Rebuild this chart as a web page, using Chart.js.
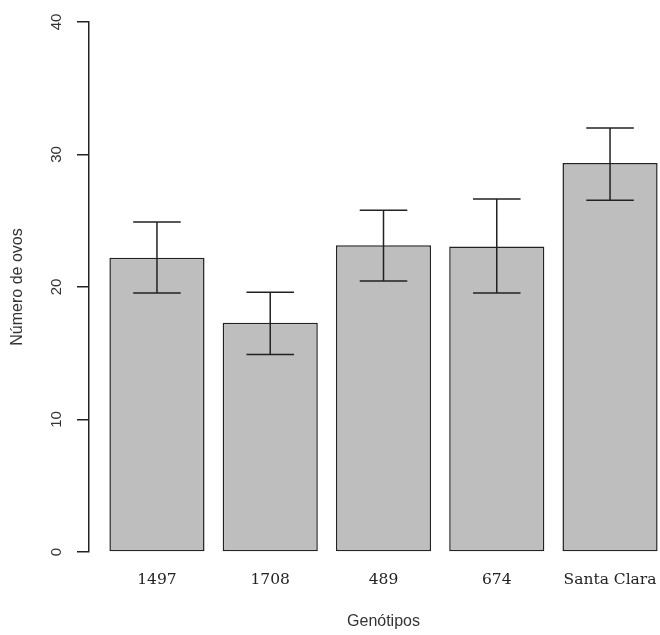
<!DOCTYPE html>
<html>
<head>
<meta charset="utf-8">
<script src="https://cdn.jsdelivr.net/npm/chart.js@4.4.0/dist/chart.umd.min.js"></script>
<style>
  html, body { margin: 0; padding: 0; background: #fff; overflow: hidden; }
  #wrap { width: 680px; height: 635px; }
</style>
</head>
<body>
<div id="wrap"><canvas id="chart" width="680" height="635"></canvas></div>
<script>
const genotypes = ['1497', '1708', '489', '674', 'Santa Clara'];
const meanEggs = [22.2, 17.3, 23.15, 23.05, 29.35];
const errLow = [19.55, 14.9, 20.45, 19.55, 26.55];
const errHigh = [24.9, 19.6, 25.8, 26.65, 32.0];
const yTicks = [0, 10, 20, 30, 40];

// draws the mean +/- error whiskers on top of each bar
const errorBars = {
  id: 'errorBars',
  afterDatasetsDraw(chart) {
    const { ctx, scales: { y } } = chart;
    const meta = chart.getDatasetMeta(0);
    ctx.save();
    ctx.strokeStyle = '#222';
    ctx.lineWidth = 1.5;
    meta.data.forEach((bar, i) => {
      const cx = bar.x;
      const half = bar.width * 0.25;
      const top = y.getPixelForValue(errHigh[i]);
      const bot = y.getPixelForValue(errLow[i]);
      ctx.beginPath();
      ctx.moveTo(cx, top); ctx.lineTo(cx, bot);
      ctx.moveTo(cx - half, top); ctx.lineTo(cx + half, top);
      ctx.moveTo(cx - half, bot); ctx.lineTo(cx + half, bot);
      ctx.stroke();
    });
    ctx.restore();
  }
};

new Chart(document.getElementById('chart'), {
  type: 'bar',
  data: {
    datasets: [{
      data: genotypes.map((g, i) => ({ x: i + 1, y: meanEggs[i] })),
      backgroundColor: '#bebebe',
      borderColor: '#222',
      borderWidth: 1.5,
      borderSkipped: false,
      barPercentage: 0.84,
      categoryPercentage: 1
    }]
  },
  options: {
    responsive: false,
    animation: false,
    layout: { padding: { top: 22, right: 2, left: 0, bottom: 0 } },
    plugins: { legend: { display: false }, tooltip: { enabled: false } },
    scales: {
      x: {
        type: 'linear',
        min: 0.4,
        max: 5.6,
        offset: false,
        afterBuildTicks: s => { s.ticks = genotypes.map((g, i) => ({ value: i + 1 })); },
        afterFit: s => { s.height = 83; },
        grid: { display: false, drawTicks: false, offset: false },
        border: { display: false },
        ticks: {
          autoSkip: false, maxRotation: 0, padding: 19, color: '#222',
          font: { family: 'DejaVu Serif', size: 15.5 },
          callback: v => genotypes[v - 1]
        },
        title: {
          display: true, text: 'Genótipos', color: '#333',
          font: { family: 'Liberation Sans', size: 16 },
          padding: { top: 0, bottom: 4 }
        }
      },
      y: {
        min: 0,
        max: 40,
        afterBuildTicks: s => { s.ticks = yTicks.map(v => ({ value: v })); },
        afterFit: s => { s.width = 89; },
        grid: { drawOnChartArea: false, drawTicks: true, tickLength: 12, color: '#222', lineWidth: 1.5 },
        border: { display: true, color: '#222', width: 1.5 },
        ticks: {
          minRotation: 90, maxRotation: 90, crossAlign: 'center', padding: 12, color: '#333',
          font: { family: 'Liberation Sans', size: 15 }
        },
        title: {
          display: true, text: 'Número de ovos', color: '#333',
          font: { family: 'Liberation Sans', size: 16 },
          padding: { top: 8, bottom: 0 }
        }
      }
    }
  },
  plugins: [errorBars]
});
</script>
</body>
</html>
